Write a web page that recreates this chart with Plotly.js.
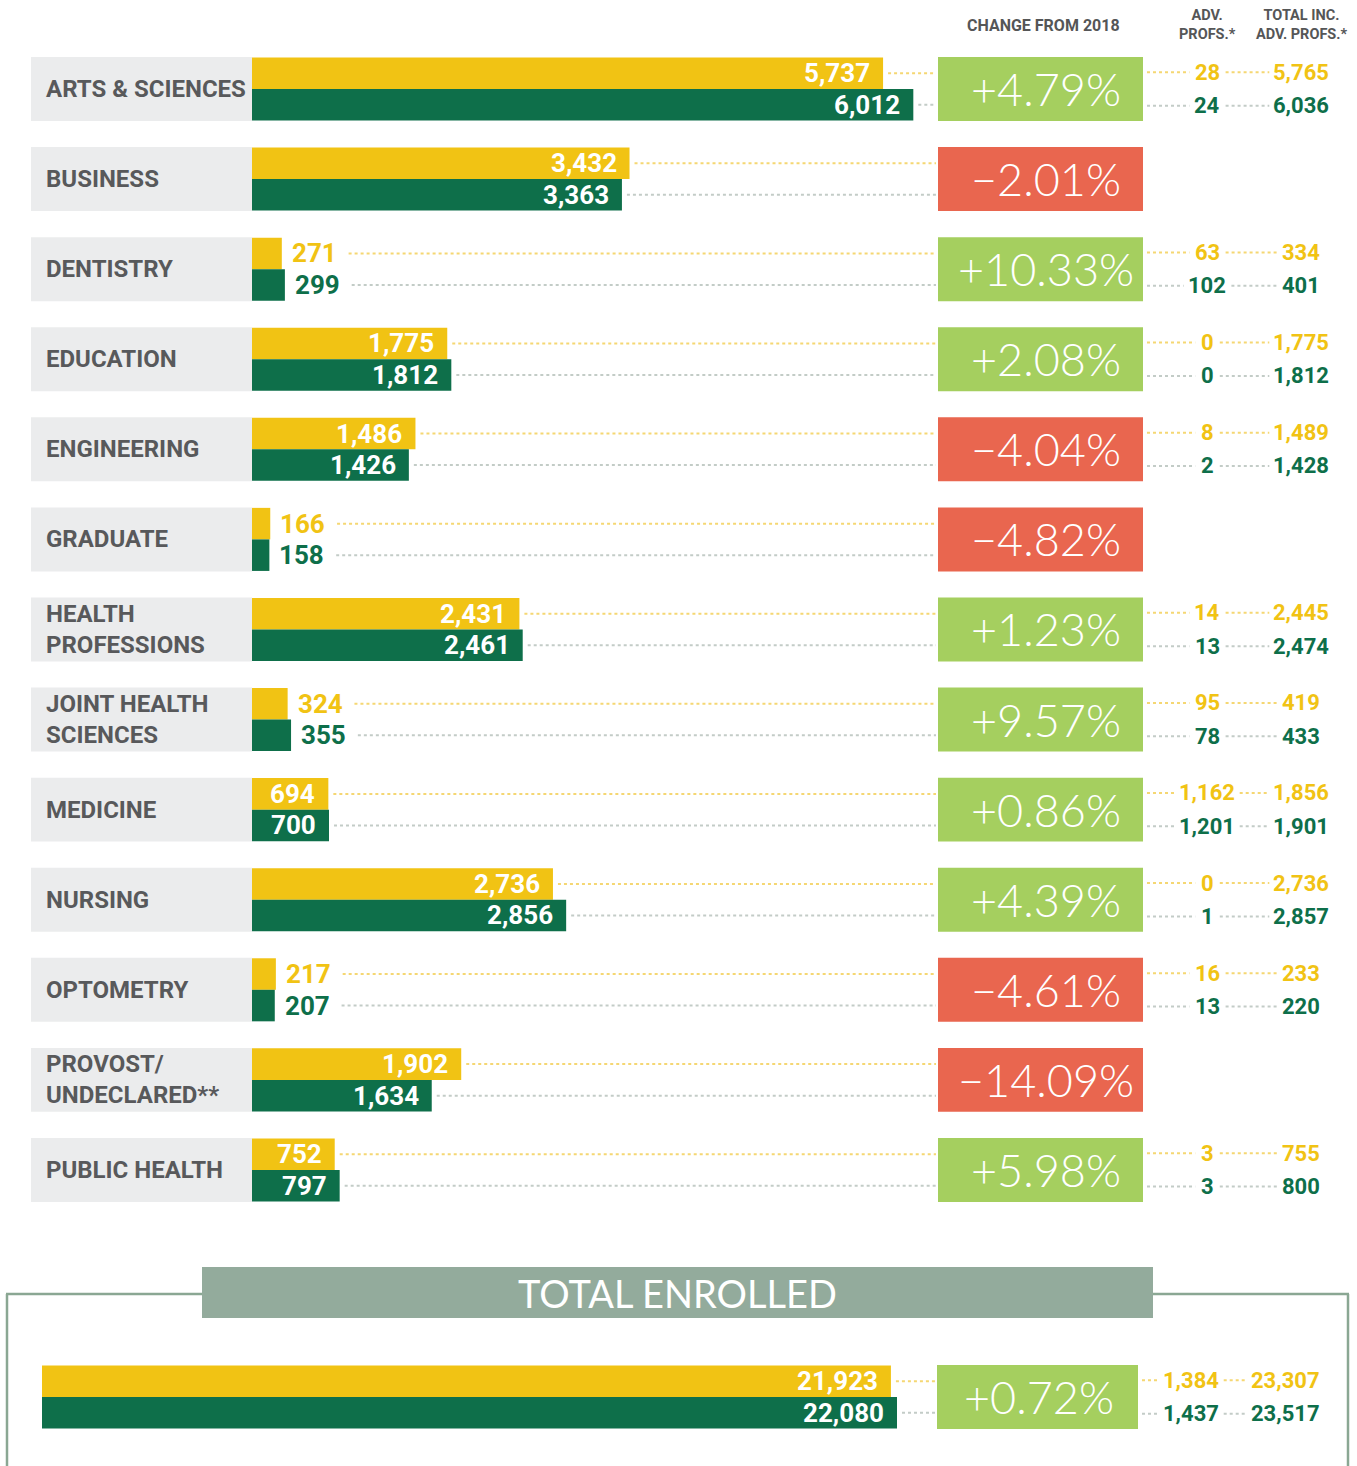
<!DOCTYPE html>
<html>
<head>
<meta charset="utf-8">
<script src="https://cdn.plot.ly/plotly-3.0.1.min.js"></script>
<style>html,body{margin:0;padding:0;background:#fff;}#chart{width:1357px;height:1466px;}</style>
</head>
<body>
<div id="chart"></div>
<script>
// ---------- DATA ----------
const categories = ['ARTS & SCIENCES','BUSINESS','DENTISTRY','EDUCATION','ENGINEERING','GRADUATE','HEALTH<br>PROFESSIONS','JOINT HEALTH<br>SCIENCES','MEDICINE','NURSING','OPTOMETRY','PROVOST/<br>UNDECLARED**','PUBLIC HEALTH'];
const enroll2018 = [5737,3432,271,1775,1486,166,2431,324,694,2736,217,1902,752];
const enroll2019 = [6012,3363,299,1812,1426,158,2461,355,700,2856,207,1634,797];
const changePct = [4.79,-2.01,10.33,2.08,-4.04,-4.82,1.23,9.57,0.86,4.39,-4.61,-14.09,5.98];
const adv2018 = [28,null,63,0,8,null,14,95,1162,0,16,null,3];
const adv2019 = [24,null,102,0,2,null,13,78,1201,1,13,null,3];
const totalInc2018 = [5765,null,334,1775,1489,null,2445,419,1856,2736,233,null,755];
const totalInc2019 = [6036,null,401,1812,1428,null,2474,433,1901,2857,220,null,800];
const totalLabel = 'TOTAL ENROLLED';
const total2018 = 21923, total2019 = 22080, totalChange = 0.72;
const totalAdv2018 = 1384, totalAdv2019 = 1437;
const totalInc2018All = 23307, totalInc2019All = 23517;
const headerChange = 'CHANGE FROM 2018';
const headerAdv = 'ADV.<br>PROFS.*';
const headerTotal = 'TOTAL INC.<br>ADV. PROFS.*';

// ---------- STYLE / GEOMETRY ----------
const W = 1357, H = 1466;
const YEL = '#f1c314', GRN = '#0e6f4a', LGRN = '#a5cf5f', RED = '#e9664f';
const LBLBG = '#ebeced', LBLTXT = '#58595b';
const DOTY = '#f5d773', DOTG = '#c3ccc7';
const LBLF = 'Roboto, "Liberation Sans", sans-serif';
const NUMF = 'Roboto, "Liberation Sans", sans-serif';
const LIGHTF = 'Lato, "Open Sans", sans-serif';
const S1 = 0.11, X0 = 252;          // px per unit, zero position (rows)
const S2 = 855/22080, X0b = 42;     // totals
const Y0 = 89, P = 90.08;           // row centre px and pitch
const BW = 0.35, OFF = 0.175;
const TY = (1397 - Y0) / P;         // total row index position
const px = p => p / W;
const py = p => 1 - p / H;
const fmt = v => v.toLocaleString('en-US');
const fmtPct = v => (v >= 0 ? '+' : '\u2212') + Math.abs(v).toFixed(2) + '%';
const numW = (s, d, c) => s.split('').reduce((a, ch) => a + (ch === ',' ? c : d), 0);

const rows = categories.map((_, i) => i);

const traces = [
  {type:'bar', orientation:'h', x: enroll2018, y: rows.map(i => i - OFF), width: BW,
   marker:{color:YEL}, hoverinfo:'skip', xaxis:'x', yaxis:'y'},
  {type:'bar', orientation:'h', x: enroll2019, y: rows.map(i => i + OFF), width: BW,
   marker:{color:GRN}, hoverinfo:'skip', xaxis:'x', yaxis:'y'},
  {type:'bar', orientation:'h', x: [total2018], y: [TY - OFF], width: BW,
   marker:{color:YEL}, hoverinfo:'skip', xaxis:'x2', yaxis:'y'},
  {type:'bar', orientation:'h', x: [total2019], y: [TY + OFF], width: BW,
   marker:{color:GRN}, hoverinfo:'skip', xaxis:'x2', yaxis:'y'}
];

const shapes = [];
const ann = [];

function dotted(x0, x1, y, color) {
  if (x1 - x0 < 4) return;
  shapes.push({type:'line', xref:'paper', yref:'y', x0: px(x0), x1: px(x1), y0: y, y1: y,
    line:{color: color, width: 2, dash:'dot'}, layer:'below'});
}

function valueLabel(val, y, color, xref, scale, zero, rightEdge) {
  const s = fmt(val);
  const w = numW(s, 14.6, 6);
  const barEnd = zero + val * scale;
  let textEnd;
  if (val * scale > w + 18) {
    ann.push({xref: xref, yref:'y', x: val, y: y, text: s, showarrow:false,
      xanchor:'right', yanchor:'middle', xshift: -11,
      font:{family: NUMF, size: 26, color:'#ffffff', weight: 700}});
    textEnd = barEnd;
  } else {
    ann.push({xref: xref, yref:'y', x: val, y: y, text: s, showarrow:false,
      xanchor:'left', yanchor:'middle', xshift: 8,
      font:{family: NUMF, size: 26, color: color, weight: 700}});
    textEnd = barEnd + 10 + w + 8;
  }
  dotted(textEnd + 5, rightEdge, y, color === YEL ? DOTY : DOTG);
}

function advCols(a, t, y, color, cA, cT, boxRight) {
  if (a === null || a === undefined) return;
  const sa = fmt(a), st = fmt(t);
  const wa = numW(sa, 11.6, 5), wt = numW(st, 11.6, 5);
  ann.push({xref:'paper', yref:'y', x: px(cA), y: y, text: sa, showarrow:false, xanchor:'center', yanchor:'middle',
    font:{family: NUMF, size: 22, color: color, weight: 700}});
  ann.push({xref:'paper', yref:'y', x: px(cT), y: y, text: st, showarrow:false, xanchor:'center', yanchor:'middle',
    font:{family: NUMF, size: 22, color: color, weight: 700}});
  const dc = color === YEL ? DOTY : DOTG;
  dotted(boxRight + 4, cA - wa / 2 - 6, y, dc);
  dotted(cA + wa / 2 + 7, cT - wt / 2 - 6, y, dc);
}

rows.forEach(i => {
  // label background
  shapes.push({type:'rect', xref:'paper', yref:'y', x0: px(31), x1: px(252),
    y0: i - 0.355, y1: i + 0.355, fillcolor: LBLBG, line:{width:0}, layer:'below'});
  ann.push({xref:'paper', yref:'y', x: px(44), y: i, text: categories[i], showarrow:false,
    xanchor:'left', yanchor:'middle', align:'left',
    font:{family: LBLF, size: 24, color: LBLTXT, weight: 700}});
  // values + leaders
  valueLabel(enroll2018[i], i - OFF, YEL, 'x', S1, X0, 936);
  valueLabel(enroll2019[i], i + OFF, GRN, 'x', S1, X0, 936);
  // change box
  shapes.push({type:'rect', xref:'paper', yref:'y', x0: px(938), x1: px(1143),
    y0: i - 0.355, y1: i + 0.355, fillcolor: changePct[i] >= 0 ? LGRN : RED, line:{width:0}, layer:'below'});
  ann.push({xref:'paper', yref:'y', x: px(1046), y: i, text: fmtPct(changePct[i]), showarrow:false,
    xanchor:'center', yanchor:'middle', font:{family: LIGHTF, size: 45, color:'#ffffff', weight: 300}});
  // adv columns
  advCols(adv2018[i], totalInc2018[i], i - 0.185, YEL, 1207, 1301, 1143);
  advCols(adv2019[i], totalInc2019[i], i + 0.185, GRN, 1207, 1301, 1143);
});

// headers
ann.push({xref:'paper', yref:'paper', x: px(1043), y: py(25), text: headerChange, showarrow:false,
  xanchor:'center', yanchor:'middle', font:{family: LBLF, size: 16, color:'#555657', weight: 700}});
ann.push({xref:'paper', yref:'paper', x: px(1207), y: py(25), text: headerAdv, showarrow:false,
  xanchor:'center', yanchor:'middle', align:'center', font:{family: LBLF, size: 14.5, color:'#555657', weight: 700}});
ann.push({xref:'paper', yref:'paper', x: px(1301), y: py(25), text: headerTotal, showarrow:false,
  xanchor:'center', yanchor:'middle', align:'center', font:{family: LBLF, size: 14.5, color:'#555657', weight: 700}});

// total frame
const FR = '#8aa793';
shapes.push({type:'line', xref:'paper', yref:'paper', x0: px(7), x1: px(7), y0: py(1294), y1: py(1470), line:{color:FR, width:2.5}});
shapes.push({type:'line', xref:'paper', yref:'paper', x0: px(1348), x1: px(1348), y0: py(1294), y1: py(1470), line:{color:FR, width:2.5}});
shapes.push({type:'line', xref:'paper', yref:'paper', x0: px(6), x1: px(205), y0: py(1294), y1: py(1294), line:{color:FR, width:2.5}});
shapes.push({type:'line', xref:'paper', yref:'paper', x0: px(1150), x1: px(1349), y0: py(1294), y1: py(1294), line:{color:FR, width:2.5}});
shapes.push({type:'rect', xref:'paper', yref:'paper', x0: px(202), x1: px(1153), y0: py(1318), y1: py(1267),
  fillcolor:'#93ab9c', line:{width:0}});
ann.push({xref:'paper', yref:'paper', x: px(677), y: py(1293), text: totalLabel, showarrow:false,
  xanchor:'center', yanchor:'middle', font:{family: LIGHTF, size: 38, color:'#ffffff', weight: 400}});

// total row
valueLabel(total2018, TY - OFF, YEL, 'x2', S2, X0b, 935);
valueLabel(total2019, TY + OFF, GRN, 'x2', S2, X0b, 935);
shapes.push({type:'rect', xref:'paper', yref:'y', x0: px(937), x1: px(1138),
  y0: TY - 0.355, y1: TY + 0.355, fillcolor: totalChange >= 0 ? LGRN : RED, line:{width:0}, layer:'below'});
ann.push({xref:'paper', yref:'y', x: px(1039), y: TY, text: fmtPct(totalChange), showarrow:false,
  xanchor:'center', yanchor:'middle', font:{family: LIGHTF, size: 45, color:'#ffffff', weight: 300}});
advCols(totalAdv2018, totalInc2018All, TY - 0.185, YEL, 1191, 1285, 1138);
advCols(totalAdv2019, totalInc2019All, TY + 0.185, GRN, 1191, 1285, 1138);

const layout = {
  width: W, height: H,
  margin:{l:0, r:0, t:0, b:0},
  paper_bgcolor:'#ffffff', plot_bgcolor:'rgba(0,0,0,0)',
  showlegend:false, barmode:'overlay',
  xaxis:{domain:[0,1], range:[-X0 / S1, (W - X0) / S1], visible:false, fixedrange:true},
  xaxis2:{overlaying:'x', anchor:'y', range:[-X0b / S2, (W - X0b) / S2], visible:false, fixedrange:true},
  yaxis:{domain:[0,1], range:[(H - Y0) / P, -Y0 / P], visible:false, fixedrange:true},
  shapes: shapes,
  annotations: ann
};

Plotly.newPlot('chart', traces, layout, {staticPlot:true, displayModeBar:false});
</script>
</body>
</html>
